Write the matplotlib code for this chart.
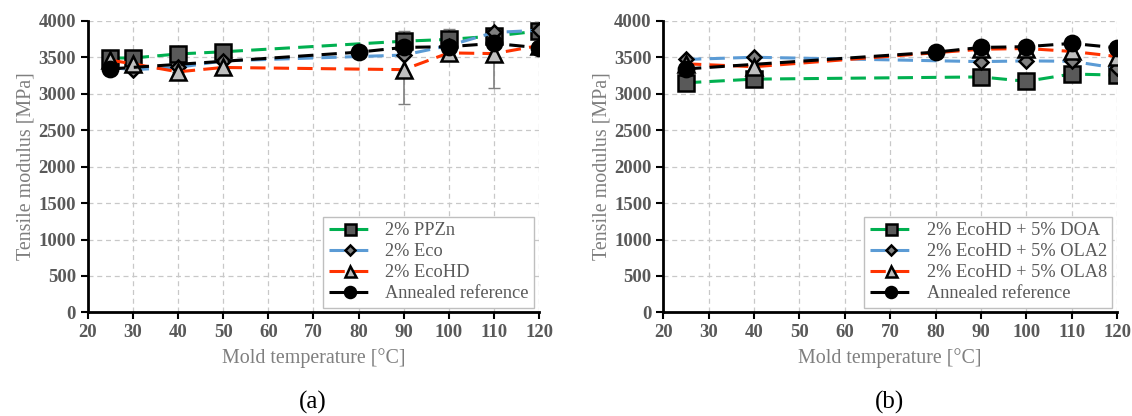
import matplotlib
matplotlib.use("Agg")
import numpy as np
import matplotlib.pyplot as plt

# mold temperatures [C]
temps = [25, 30, 40, 50, 90, 100, 110, 120]
temps_b = [25, 40, 90, 100, 110, 120]
temps_ref = [25, 80, 90, 100, 110, 120]

# panel (a) tensile modulus [MPa]
ppzn = [3490, 3490, 3545, 3575, 3720, 3745, 3790, 3860]
ppzn_err = [0, 0, 0, 0, 140, 145, 0, 0]
eco = [3360, 3330, 3360, 3450, 3530, 3660, 3840, 3870]
ecohd = [3460, 3410, 3300, 3360, 3330, 3560, 3550, 3660]
ecohd_err = [0, 0, 0, 0, 465, 0, 475, 0]

# panel (b)
doa = [3150, 3200, 3230, 3170, 3270, 3255]
ola2 = [3470, 3500, 3440, 3450, 3445, 3350]
ola8 = [3410, 3370, 3610, 3620, 3580, 3510]

# annealed reference (same in both panels)
annealed = [3340, 3570, 3635, 3645, 3690, 3630]

labels_a = ["2% PPZn", "2% Eco", "2% EcoHD", "Annealed reference"]
labels_b = ["2% EcoHD + 5% DOA", "2% EcoHD + 5% OLA2", "2% EcoHD + 5% OLA8",
            "Annealed reference"]
xticks = list(range(20, 121, 10))
yticks = list(range(0, 4001, 500))

plt.rcParams["font.family"] = ["Liberation Serif", "DejaVu Serif"]

GREEN = "#00b050"
BLUE = "#5b9bd5"
RED = "#ff3300"
TXT = "#595959"

styles = [
    dict(color=GREEN, marker="s", markersize=11, markerfacecolor="#595959"),
    dict(color=BLUE, marker="D", markersize=7.5, markerfacecolor="#808080"),
    dict(color=RED, marker="^", markersize=11, markerfacecolor="#bfbfbf"),
    dict(color="black", marker="o", markersize=11, markerfacecolor="black"),
]


def draw(ax, xs_list, ys_list, labels):
    for i, (xs, ys, lab) in enumerate(zip(xs_list, ys_list, labels)):
        ax.plot(xs, ys, linestyle=(0, (5, 2.7)), linewidth=2.2,
                markeredgecolor="black", markeredgewidth=1.8,
                label=lab, zorder=3 + i, **styles[i])
    ax.set_xlim(20, 120)
    ax.set_ylim(0, 4000)
    ax.set_xticks(xticks)
    ax.set_yticks(yticks)
    ax.grid(True, linestyle=(0, (4, 3)), color="#c8c8c8", linewidth=0.9)
    ax.set_axisbelow(True)
    for s in ["top", "right"]:
        ax.spines[s].set_visible(False)
    for s in ["left", "bottom"]:
        ax.spines[s].set_linewidth(2)
    ax.tick_params(direction="out", length=5, width=1.5, labelsize=13.5,
                   labelcolor=TXT)
    for t in ax.get_xticklabels() + ax.get_yticklabels():
        t.set_fontweight("bold")
    ax.set_xlabel("Mold temperature [°C]", fontsize=14.4, color="#7f7f7f",
                  labelpad=5)
    ax.set_ylabel("Tensile modulus [MPa]", fontsize=14.4, color="#7f7f7f",
                  labelpad=2)
    leg = ax.legend(loc="lower right", fontsize=13.2, frameon=True,
                    fancybox=False, edgecolor="#bfbfbf", framealpha=1,
                    borderaxespad=0.25, handlelength=2.3, labelspacing=0.22,
                    markerscale=0.72, borderpad=0.3)
    for t in leg.get_texts():
        t.set_color(TXT)


fig = plt.figure(figsize=(11.32, 4.16), dpi=100)
ax1 = fig.add_axes([0.0775, 0.249, 0.3987, 0.701])
ax2 = fig.add_axes([0.586, 0.249, 0.4008, 0.701])

ax1.errorbar(temps, ecohd, yerr=ecohd_err, fmt="none", ecolor="#7f7f7f",
             elinewidth=1.2, capsize=4, zorder=2)
ax1.errorbar(temps, ppzn, yerr=ppzn_err, fmt="none", ecolor="#7f7f7f",
             elinewidth=1.2, capsize=4, zorder=2)
draw(ax1, [temps, temps, temps, temps_ref], [ppzn, eco, ecohd, annealed], labels_a)
draw(ax2, [temps_b, temps_b, temps_b, temps_ref], [doa, ola2, ola8, annealed], labels_b)

fig.text(0.2765, 0.018, "(a)", ha="center", fontsize=18)
fig.text(0.786, 0.018, "(b)", ha="center", fontsize=18)

fig.savefig("out.png", dpi=100)
